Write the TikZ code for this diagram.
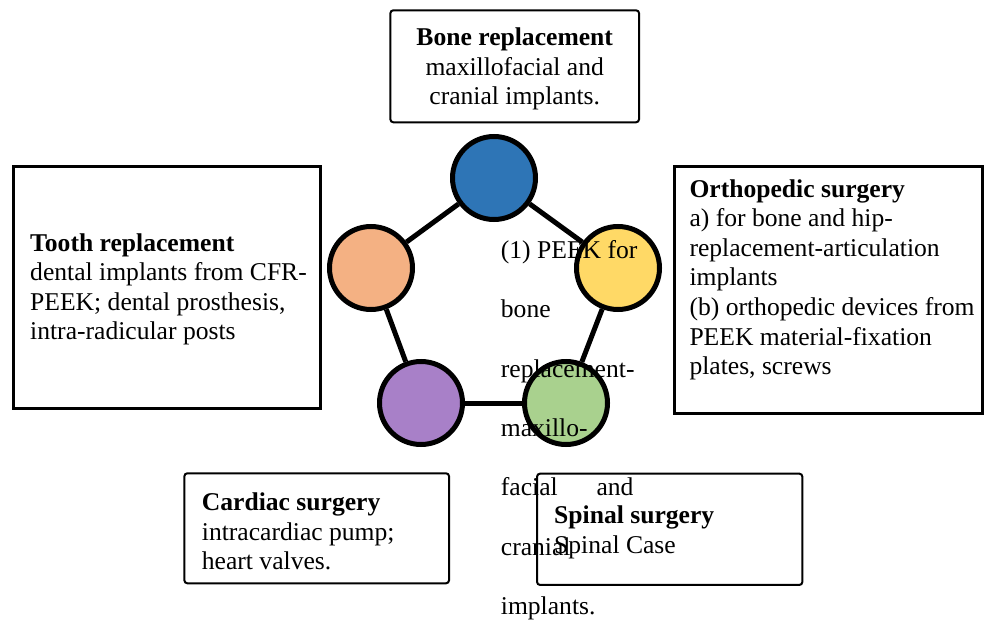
\documentclass[tikz,border=0pt]{standalone}
\usepackage{fontspec}
\setmainfont{Liberation Serif}
\definecolor{cblue}{HTML}{2E75B6}
\definecolor{corange}{HTML}{F4B183}
\definecolor{cyellow}{HTML}{FFD966}
\definecolor{cpurple}{HTML}{A880C8}
\definecolor{cgreen}{HTML}{A9D18E}
\begin{document}
\begin{tikzpicture}[x=1pt,y=-1pt,
  every node/.style={font=\fontsize{25.6}{29.6}\selectfont},
  dot/.style={circle, draw=black, line width=5pt, minimum size=83pt, inner sep=0pt},
  link/.style={line width=5pt},
  sqbox/.style={draw, line width=3pt, inner sep=0pt},
  rbox/.style={draw, line width=2pt, rounded corners=3pt, inner sep=0pt},
  txt/.style={anchor=north west, inner sep=0pt, align=left}
]
\useasboundingbox (0,0) rectangle (1000,631);
% boxes
\node[rbox, minimum width=248.7pt, minimum height=112pt] (bonebox) at (514.7,66.3) {};
\node[sqbox, minimum width=307pt, minimum height=242pt] (toothbox) at (166.7,287.5) {};
\node[sqbox, minimum width=308.3pt, minimum height=247pt] (orthobox) at (828.4,290) {};
\node[rbox, minimum width=264.7pt, minimum height=110pt] (cardbox) at (316.7,528.3) {};
\node[rbox, minimum width=265.3pt, minimum height=111.3pt] (spinebox) at (669.7,529.3) {};
% box texts
\node[anchor=north, inner sep=0pt, align=center] (bonetxt) at (514.7,27.5)
  {\textbf{Bone replacement}\\maxillofacial and\\cranial implants.};
\node[txt] (toothtxt) at (30,233.2)
  {\textbf{Tooth replacement}\\dental implants from CFR-\\PEEK; dental prosthesis,\\intra-radicular posts};
\node[txt] (orthotxt) at (689.3,179.2)
  {\textbf{Orthopedic surgery}\\a) for bone and hip-\\replacement-articulation\\implants\\(b) orthopedic devices from\\PEEK material-fixation\\plates, screws};
\node[txt] (cardtxt) at (201.7,492.5)
  {\textbf{Cardiac surgery}\\intracardiac pump;\\heart valves.};
\node[txt, font=\fontsize{25.6}{30.6}\selectfont] (spinetxt) at (554,505.2)
  {\textbf{Spinal surgery}\\Spinal Case};
% circles
\node[dot, fill=cblue] (blue) at (494,178) {};
\node[dot, fill=corange] (orange) at (371,268) {};
\node[dot, fill=cyellow] (yellow) at (618,268) {};
\node[dot, fill=cpurple] (purple) at (421,403) {};
\node[dot, fill=cgreen] (green) at (566,403) {};
\draw[link] (blue) -- (orange);
\draw[link] (blue) -- (yellow);
\draw[link] (orange) -- (purple);
\draw[link] (purple) -- (green);
\draw[link] (yellow) -- (green);
% centre text
\node[txt, font=\fontsize{25.6}{59.3}\selectfont] (centretxt) at (500.7,240.3)
  {(1) PEEK for\\bone\\replacement-\\maxillo-\\\makebox[132.6pt][s]{facial\hfill and}\\cranial\\implants.};
\end{tikzpicture}
\end{document}
